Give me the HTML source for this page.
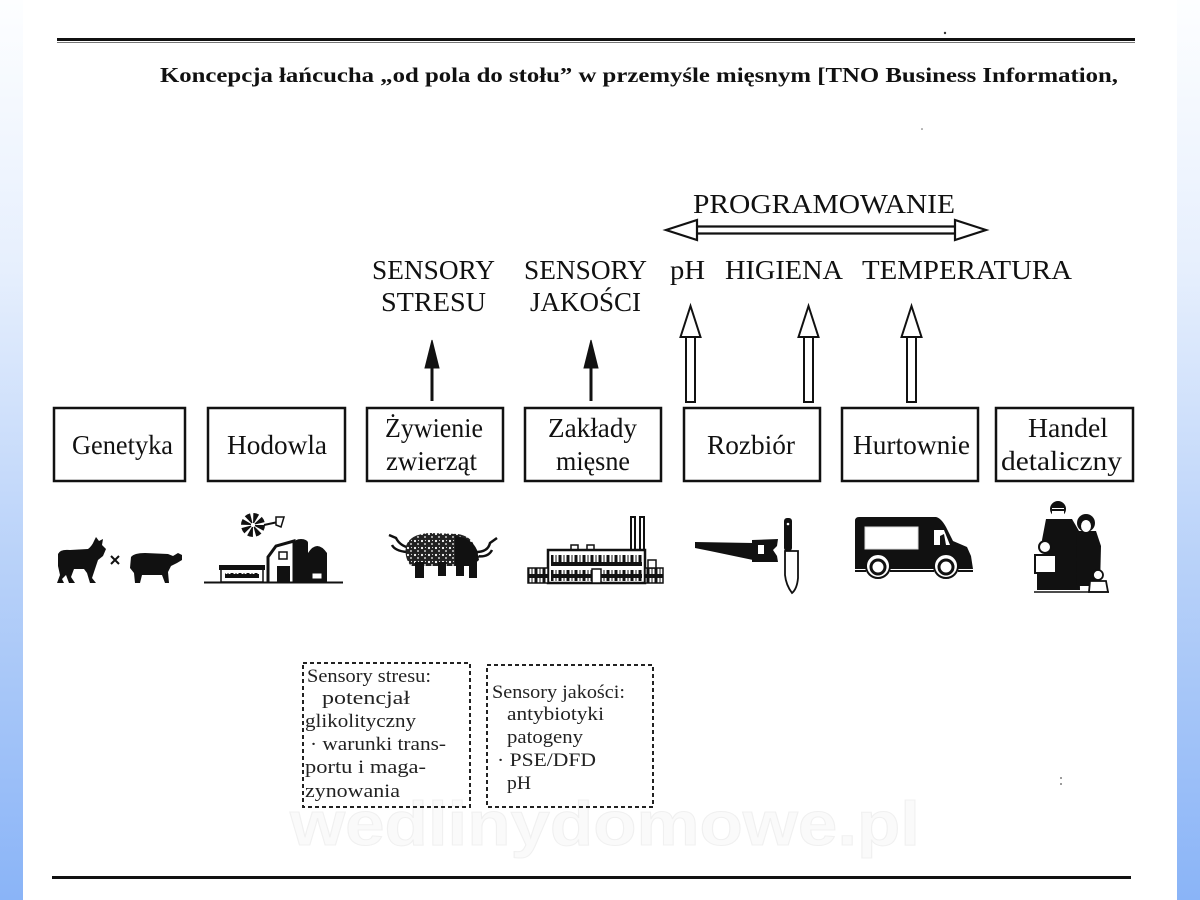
<!DOCTYPE html>
<html><head><meta charset="utf-8"><style>
html,body{margin:0;padding:0;background:#fff;}
body{width:1200px;height:900px;overflow:hidden;position:relative;}
.strip{position:absolute;top:0;width:23px;height:900px;background:linear-gradient(to bottom,#fdfeff 0%,#e6effd 30%,#b9d2f9 62%,#8ab4f7 100%);}
svg{position:absolute;left:0;top:0;}
</style></head><body>
<div class="strip" style="left:0"></div>
<div class="strip" style="left:1177px"></div>
<svg width="1200" height="900" viewBox="0 0 1200 900" xmlns="http://www.w3.org/2000/svg">
<defs>
<pattern id="speck" width="7" height="7" patternUnits="userSpaceOnUse">
<rect width="7" height="7" fill="#222"/>
<circle cx="2" cy="2" r="1.1" fill="#fff"/><circle cx="5" cy="5" r="0.9" fill="#fff"/><circle cx="5.5" cy="1.5" r="0.6" fill="#ddd"/>
</pattern>
<pattern id="win" width="8" height="12" patternUnits="userSpaceOnUse">
<rect width="8" height="12" fill="#111"/>
<rect x="1.5" y="2" width="5" height="8" fill="#fff"/>
<line x1="4" y1="2" x2="4" y2="10" stroke="#111" stroke-width="1"/>
</pattern>
</defs>

<!-- top and bottom rules -->
<rect x="57" y="38" width="1078" height="3" fill="#111"/>
<rect x="57" y="42" width="1078" height="1" fill="#777"/>
<rect x="52" y="876" width="1079" height="3" fill="#111"/>
<circle cx="945" cy="33" r="1.2" fill="#333"/>
<circle cx="922" cy="129" r="0.8" fill="#666"/>
<circle cx="1061" cy="778" r="0.9" fill="#555"/><circle cx="1061" cy="784" r="0.9" fill="#555"/>

<g font-family="'Liberation Serif', serif" fill="#111">
<text x="160" y="82" font-size="21" font-weight="bold" textLength="958" lengthAdjust="spacingAndGlyphs">Koncepcja łańcucha „od pola do stołu” w przemyśle mięsnym [TNO Business Information,</text>

<text x="693" y="213" font-size="27" textLength="262" lengthAdjust="spacingAndGlyphs">PROGRAMOWANIE</text>
<text x="372" y="279" font-size="27" textLength="123" lengthAdjust="spacingAndGlyphs">SENSORY</text>
<text x="381" y="311" font-size="27" textLength="105" lengthAdjust="spacingAndGlyphs">STRESU</text>
<text x="524" y="279" font-size="27" textLength="123" lengthAdjust="spacingAndGlyphs">SENSORY</text>
<text x="530" y="311" font-size="27" textLength="111" lengthAdjust="spacingAndGlyphs">JAKOŚCI</text>
<text x="670" y="279" font-size="27" textLength="35" lengthAdjust="spacingAndGlyphs">pH</text>
<text x="725" y="279" font-size="27" textLength="118" lengthAdjust="spacingAndGlyphs">HIGIENA</text>
<text x="862" y="279" font-size="27" textLength="210" lengthAdjust="spacingAndGlyphs">TEMPERATURA</text>

<!-- box labels -->
<text x="72" y="454" font-size="27" textLength="101" lengthAdjust="spacingAndGlyphs">Genetyka</text>
<text x="227" y="454" font-size="27" textLength="100" lengthAdjust="spacingAndGlyphs">Hodowla</text>
<text x="385" y="437" font-size="27" textLength="98" lengthAdjust="spacingAndGlyphs">Żywienie</text>
<text x="386" y="470" font-size="27" textLength="91" lengthAdjust="spacingAndGlyphs">zwierząt</text>
<text x="548" y="437" font-size="27" textLength="89" lengthAdjust="spacingAndGlyphs">Zakłady</text>
<text x="556" y="470" font-size="27" textLength="74" lengthAdjust="spacingAndGlyphs">mięsne</text>
<text x="707" y="454" font-size="27" textLength="88" lengthAdjust="spacingAndGlyphs">Rozbiór</text>
<text x="853" y="454" font-size="27" textLength="117" lengthAdjust="spacingAndGlyphs">Hurtownie</text>
<text x="1028" y="437" font-size="27" textLength="80" lengthAdjust="spacingAndGlyphs">Handel</text>
<text x="1001" y="470" font-size="27" textLength="121" lengthAdjust="spacingAndGlyphs">detaliczny</text>

<!-- dashed box texts -->
<g font-size="19" fill="#222">
<text x="307" y="682" textLength="124" lengthAdjust="spacingAndGlyphs">Sensory stresu:</text>
<text x="322" y="704" textLength="88" lengthAdjust="spacingAndGlyphs">potencjał</text>
<text x="305" y="727" textLength="111" lengthAdjust="spacingAndGlyphs">glikolityczny</text>
<text x="310" y="750" textLength="136" lengthAdjust="spacingAndGlyphs">· warunki trans-</text>
<text x="305" y="773" textLength="121" lengthAdjust="spacingAndGlyphs">portu i maga-</text>
<text x="305" y="797" textLength="95" lengthAdjust="spacingAndGlyphs">zynowania</text>

<text x="492" y="698" textLength="133" lengthAdjust="spacingAndGlyphs">Sensory jakości:</text>
<text x="507" y="720" textLength="97" lengthAdjust="spacingAndGlyphs">antybiotyki</text>
<text x="507" y="743" textLength="76" lengthAdjust="spacingAndGlyphs">patogeny</text>
<text x="497" y="766" textLength="99" lengthAdjust="spacingAndGlyphs">· PSE/DFD</text>
<text x="507" y="789" textLength="24" lengthAdjust="spacingAndGlyphs">pH</text>
</g>
</g>

<!-- watermark -->
<text x="290" y="845" font-family="'Liberation Sans', sans-serif" font-weight="bold" font-size="62" fill="#fafafa" stroke="#f0f0f0" stroke-width="1" textLength="630" lengthAdjust="spacingAndGlyphs">wedlinydomowe.pl</text>

<!-- double arrow PROGRAMOWANIE -->
<g fill="#fff" stroke="#111" stroke-width="2.2">
<line x1="697" y1="226.5" x2="955" y2="226.5"/>
<line x1="697" y1="233.5" x2="955" y2="233.5"/>
<polygon points="666,230 697,220 697,240"/>
<polygon points="986,230 955,220 955,240"/>
</g>

<!-- filled arrows -->
<g fill="#111" stroke="#111">
<line x1="432" y1="365" x2="432" y2="401" stroke-width="3"/>
<polygon points="432,340 425,368 439,368" stroke-width="1"/>
<line x1="591" y1="365" x2="591" y2="401" stroke-width="3"/>
<polygon points="591,340 584,368 598,368" stroke-width="1"/>
</g>

<!-- hollow arrows -->
<g fill="#fff" stroke="#111" stroke-width="2">
<rect x="686" y="336" width="9" height="66"/>
<polygon points="690.5,306 680.5,337 700.5,337"/>
<rect x="804" y="336" width="9" height="66"/>
<polygon points="808.5,306 798.5,337 818.5,337"/>
<rect x="907" y="336" width="9" height="66"/>
<polygon points="911.5,306 901.5,337 921.5,337"/>
</g>

<!-- boxes -->
<g fill="none" stroke="#111" stroke-width="2.5">
<rect x="54" y="408" width="131" height="73"/>
<rect x="208" y="408" width="137" height="73"/>
<rect x="367" y="408" width="136" height="73"/>
<rect x="525" y="408" width="136" height="73"/>
<rect x="684" y="408" width="136" height="73"/>
<rect x="842" y="408" width="136" height="73"/>
<rect x="996" y="408" width="137" height="73"/>
</g>

<!-- dashed boxes -->
<g fill="none" stroke="#222" stroke-width="2" stroke-dasharray="4 3">
<rect x="303" y="663" width="167" height="144"/>
<rect x="487" y="665" width="166" height="142"/>
</g>

<!-- ICONS -->
<!-- cows -->
<path fill="#111" d="M58,554 Q60,549 70,550 L88,549 Q92,546 94,541 L96,537 L99,541 L103,539 L102,545 L106,549 L103,556 L98,560 L96,566 L94,572 L92,578 L96,583 L90,583 L87,573 L84,569 L74,569 L71,577 L75,583 L69,583 L66,575 L62,579 L64,583 L57,583 L60,575 L58,566 Z"/>
<path stroke="#111" stroke-width="2" d="M111,556 L119,564 M119,556 L111,564"/>
<path fill="#111" d="M131,557 Q134,553 145,553 L168,554 L173,556 L178,553 L182,555 L182,560 L177,563 L171,566 L168,572 L169,583 L165,583 L162,575 L142,575 L140,583 L135,583 L134,573 L130,568 Z"/>

<!-- farm -->
<circle cx="253" cy="525" r="7" fill="none" stroke="#111" stroke-width="10" stroke-dasharray="3.5 2"/>
<circle cx="253" cy="525" r="2" fill="#fff"/>
<path d="M264,525 L278,522" stroke="#111" stroke-width="2"/>
<polygon points="276,517 284,517 281,527 276,525" fill="#fff" stroke="#111" stroke-width="1.5"/>
<rect x="221" y="569" width="42" height="13" fill="#fff" stroke="#111" stroke-width="1.5"/>
<rect x="219" y="565" width="46" height="5" fill="#111"/>
<rect x="225" y="573" width="34" height="5" fill="url(#win)"/>
<path d="M268,582 V557 L276,546 L294,541 V582" fill="#fff" stroke="#111" stroke-width="3"/>
<rect x="277" y="566" width="13" height="16" fill="#111"/>
<rect x="279" y="552" width="8" height="7" fill="#fff" stroke="#111" stroke-width="1.5"/>
<rect x="294" y="543" width="14" height="39" fill="#111"/>
<ellipse cx="301" cy="543" rx="7" ry="4" fill="#111"/>
<path d="M308,582 V553 Q317,539 327,553 V582 Z" fill="#111"/>
<rect x="312" y="573" width="10" height="6" fill="#fff" stroke="#111" stroke-width="1"/>
<line x1="204" y1="582.5" x2="343" y2="582.5" stroke="#111" stroke-width="2"/>

<!-- feeding animal -->
<path d="M410,548 Q400,546 396,538 L389,535 M407,552 Q395,551 392,545" stroke="#111" stroke-width="2.5" fill="none"/>
<path d="M476,552 Q488,552 490,543 L497,538 M476,556 Q488,558 492,550" stroke="#111" stroke-width="2.5" fill="none"/>
<path fill="url(#speck)" d="M406,546 Q410,534 430,533 L458,534 Q470,536 474,545 L479,556 Q478,565 470,566 L411,566 Q404,558 406,546 Z"/>
<path fill="#111" d="M455,536 Q472,538 477,550 L479,560 L472,566 L455,566 Z"/>
<rect x="415" y="562" width="9" height="16" fill="#111"/>
<rect x="438" y="562" width="8" height="14" fill="#111"/>
<rect x="456" y="562" width="8" height="14" fill="#111"/>
<rect x="469" y="562" width="8" height="16" fill="#111"/>

<!-- factory -->
<rect x="631" y="517" width="4" height="36" fill="#fff" stroke="#111" stroke-width="2"/>
<rect x="640" y="517" width="4" height="36" fill="#fff" stroke="#111" stroke-width="2"/>
<rect x="571" y="545" width="7" height="5" fill="#fff" stroke="#111" stroke-width="1.5"/>
<rect x="587" y="545" width="7" height="5" fill="#fff" stroke="#111" stroke-width="1.5"/>
<rect x="548" y="550" width="97" height="33" fill="#fff" stroke="#111" stroke-width="2.5"/>
<rect x="551" y="555" width="91" height="11" fill="url(#win)"/>
<rect x="551" y="570" width="91" height="11" fill="url(#win)"/>
<rect x="592" y="569" width="9" height="14" fill="#fff" stroke="#111" stroke-width="1.5"/>
<rect x="528" y="568" width="20" height="15" fill="url(#win)" stroke="#111" stroke-width="1.5"/>
<rect x="645" y="568" width="18" height="15" fill="url(#win)" stroke="#111" stroke-width="1.5"/>
<rect x="648" y="560" width="8" height="8" fill="#fff" stroke="#111" stroke-width="1.5"/>

<!-- saw + knife -->
<polygon fill="#111" points="695,542 753,543 753,560 710,551 695,548"/>
<path fill="#111" d="M752,540 L778,539 L777,546 L773,550 L777,556 L778,562 L752,562 Z"/>
<rect x="758" y="545" width="6" height="9" fill="#fff"/>
<rect x="784" y="518" width="8" height="33" rx="3" fill="#111"/>
<circle cx="788" cy="524" r="1.3" fill="#fff"/>
<path d="M785,551 L798,551 L798,578 Q797,589 792,593 Q786,585 785,575 Z" fill="#fff" stroke="#111" stroke-width="1.8"/>

<!-- van -->
<path fill="#111" d="M855,521 Q855,517 859,517 L936,517 Q941,518 946,527 L953,541 L967,547 L971,556 L973,569 L855,569 Z"/>
<rect x="865" y="527" width="53" height="22" fill="#fff" stroke="#ddd" stroke-width="1"/>
<polygon points="934,530 944,530 950,545 934,545" fill="#fff"/>
<path d="M940,545 L940,536 L944,534 L946,545 Z" fill="#111"/>
<circle cx="878" cy="566" r="12" fill="#fff" stroke="#111" stroke-width="2"/>
<circle cx="946" cy="566" r="12" fill="#fff" stroke="#111" stroke-width="2"/>
<circle cx="878" cy="567" r="7" fill="#fff" stroke="#111" stroke-width="3"/>
<circle cx="946" cy="567" r="7" fill="#fff" stroke="#111" stroke-width="3"/>
<line x1="855" y1="571" x2="866" y2="571" stroke="#111" stroke-width="2"/>
<line x1="890" y1="571" x2="934" y2="571" stroke="#111" stroke-width="2"/>
<line x1="958" y1="571" x2="973" y2="571" stroke="#111" stroke-width="2"/>

<!-- family -->
<path fill="#111" d="M1046,519 L1072,519 L1079,531 L1080,590 L1044,590 L1045,558 L1042,540 Z"/>
<circle cx="1058" cy="509" r="8" fill="#111"/>
<rect x="1052" y="508" width="12" height="9" fill="#fff"/>
<line x1="1051" y1="510" x2="1065" y2="510" stroke="#111" stroke-width="2"/>
<path fill="#111" d="M1076,531 L1096,531 L1101,546 L1100,586 L1077,586 Z"/>
<circle cx="1086" cy="523" r="9" fill="#111"/>
<ellipse cx="1086" cy="526" rx="5" ry="6" fill="#fff"/>
<circle cx="1045" cy="547" r="6" fill="#fff" stroke="#111" stroke-width="2"/>
<rect x="1035" y="555" width="21" height="18" fill="#fff" stroke="#111" stroke-width="2"/>
<rect x="1037" y="573" width="17" height="17" fill="#111"/>
<circle cx="1098" cy="575" r="5" fill="#fff" stroke="#111" stroke-width="1.8"/>
<path d="M1089,592 L1090,581 L1106,581 L1108,592 Z" fill="#fff" stroke="#111" stroke-width="1.8"/>
<line x1="1034" y1="592" x2="1109" y2="592" stroke="#111" stroke-width="1.5"/>
</svg>
</body></html>
